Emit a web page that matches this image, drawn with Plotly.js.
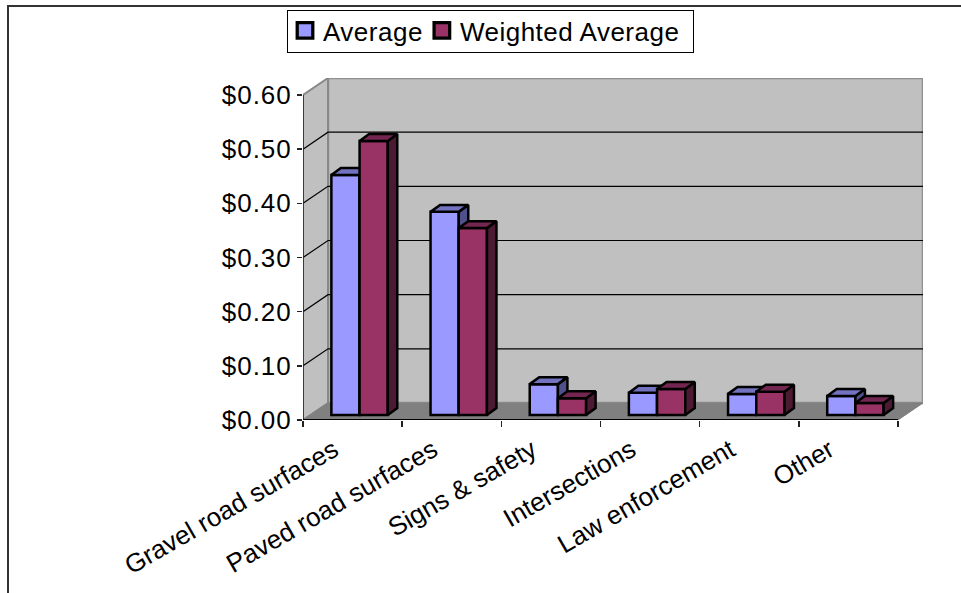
<!DOCTYPE html>
<html><head><meta charset="utf-8">
<script src="https://cdn.plot.ly/plotly-3.0.1.min.js"></script>
<style>
html,body{margin:0;padding:0;background:#fff;overflow:hidden}
#frame{position:absolute;left:7px;top:5px;right:0;bottom:0;border-top:2px solid #333;border-left:2px solid #333}
#chart{position:absolute;left:0;top:0;width:961px;height:593px}
text{letter-spacing:.5px}
.ytick text{letter-spacing:1px}
.xtick text{letter-spacing:0}
.legendpoints path{transform:translate(22px,0) scale(1.3)}
</style></head><body>
<div id="frame"></div><div id="chart"></div>
<script>
const categories=['Gravel road surfaces','Paved road surfaces','Signs & safety','Intersections','Law enforcement','Other'];
const average=[0.443,0.375,0.057,0.041,0.039,0.035];
const weighted=[0.506,0.345,0.031,0.048,0.043,0.022];
const yTicks=[0,0.1,0.2,0.3,0.4,0.5,0.6];

// scale constants (px per data unit and projected depth)
const pxX=99.17,pxY=541.67;
const wallDX=25/pxX,wallDY=17/pxY;      // depth of the chart box
const barDX=7/pxX,barDY=5/pxY;            // where bar fronts stand in the box
const sideDX=9.5/pxX,sideDY=7/pxY;        // depth of one bar
const barW=28.2/pxX;
const nCat=categories.length,yMax=0.6;

function faces(vals,offset){
  const top={x:[],y:[]},side={x:[],y:[]};
  vals.forEach((v,i)=>{
    const l=i+0.5+barDX+offset-barW/2,r=l+barW,b=barDY,t=barDY+v;
    top.x.push(l,r,r+sideDX,l+sideDX,l,null);
    top.y.push(t,t,t+sideDY,t+sideDY,t,null);
    side.x.push(r,r+sideDX,r+sideDX,r,r,null);
    side.y.push(b,b+sideDY,t+sideDY,t,b,null);
  });
  return {top,side};
}
const line2={color:'#000',width:2.5};
function poly(f,color,xa,ya){return {type:'scatter',mode:'lines',x:f.x,y:f.y,fill:'toself',fillcolor:color,line:line2,showlegend:false,hoverinfo:'skip',xaxis:xa,yaxis:ya};}
function bars(name,vals,color,offset,xa,ya){return {type:'bar',name:name,x:vals.map((v,i)=>i+0.5+barDX+offset),y:vals,base:vals.map(()=>barDY),width:barW,marker:{color:color,line:line2},xaxis:xa,yaxis:ya};}

const fA=faces(average,-barW/2),fW=faces(weighted,barW/2);
const traces=[
  bars('Average',average,'#9999FF',-barW/2,'x','y'),
  poly(fA.side,'#50508A','x','y'),
  poly(fA.top,'#7272BF','x','y'),
  bars('Weighted Average',weighted,'#993366',barW/2,'x2','y2'),
  poly(fW.side,'#4D1A33','x2','y2'),
  poly(fW.top,'#732650','x2','y2')
];

const shapes=[];
const xr=[0,nCat+wallDX],yr=[0,yMax+wallDY];
function path(pts){return 'M'+pts.map(p=>p[0]+','+p[1]).join('L')+'Z';}
// back wall, side wall, floor
shapes.push({type:'path',layer:'below',path:path([[wallDX,wallDY],[nCat+wallDX,wallDY],[nCat+wallDX,yMax+wallDY],[wallDX,yMax+wallDY]]),fillcolor:'#C0C0C0',line:{color:'#909090',width:2.5}});
shapes.push({type:'path',layer:'below',path:path([[0,0],[wallDX,wallDY],[wallDX,yMax+wallDY],[0,yMax]]),fillcolor:'#C0C0C0',line:{color:'#888',width:2}});
shapes.push({type:'path',layer:'below',path:path([[0,0],[nCat,0],[nCat+wallDX,wallDY],[wallDX,wallDY]]),fillcolor:'#808080',line:{color:'#808080',width:1}});
// gridlines bent round the box
yTicks.slice(1,-1).forEach(v=>{
  shapes.push({type:'path',layer:'below',path:`M0,${v}L${wallDX},${v+wallDY}L${nCat+wallDX},${v+wallDY}`,line:{color:'#000',width:1.2}});
});
// axis lines
shapes.push({type:'line',x0:0,x1:0,y0:0,y1:yMax,line:{color:'#222',width:1.5}});
shapes.push({type:'line',x0:0,x1:nCat,y0:0,y1:0,line:{color:'#000',width:2}});
shapes.forEach(s=>{s.xref='x';s.yref='y';});

const W=961,H=593,L=303,R=38,T=78,B=173;
const plotW=W-L-R,plotH=H-T-B;
const tickFont={family:'"Liberation Sans",Arial,sans-serif',size:26,color:'#000'};
const layout={
  width:W,height:H,margin:{l:L,r:R,t:T,b:B,pad:0,autoexpand:false},
  paper_bgcolor:'rgba(0,0,0,0)',plot_bgcolor:'rgba(0,0,0,0)',
  barmode:'overlay',showlegend:true,
  font:tickFont,
  legend:{orientation:'h',x:(282-L)/plotW,xanchor:'left',y:(H-B-6)/plotH,yanchor:'top',bgcolor:'#fff',bordercolor:'#000',borderwidth:1,font:tickFont,itemclick:false,traceorder:'normal'},
  xaxis:{range:xr,showgrid:false,zeroline:false,showline:false,tickmode:'array',
    tickvals:categories.map((c,i)=>i+0.31),ticktext:categories,tickangle:-30,ticks:'',ticklen:0,ticklabelstandoff:9,tickfont:tickFont,
    minor:{tickmode:'array',tickvals:Array.from({length:nCat+1},(_,i)=>i),ticks:'outside',ticklen:6,tickwidth:1.5,tickcolor:'#222',showgrid:false}},
  yaxis:{range:yr,showgrid:false,zeroline:false,showline:false,tickmode:'array',tickvals:yTicks,ticktext:yTicks.map(v=>'$'+v.toFixed(2)),ticks:'outside',ticklen:5,tickwidth:1.5,tickcolor:'#222',ticklabelstandoff:0,tickfont:tickFont},
  xaxis2:{range:xr,overlaying:'x',visible:false,matches:'x'},
  yaxis2:{range:yr,overlaying:'y',visible:false,matches:'y'},
  shapes:shapes
};
Plotly.newPlot('chart',traces,layout,{displayModeBar:false,staticPlot:true}).then(()=>{
  // tighten the legend frame around its entries
  const bg=document.querySelector('.legend .bg');
  const x=+bg.getAttribute('x'),y=+bg.getAttribute('y'),w=+bg.getAttribute('width');
  bg.setAttribute('x',x+5);bg.setAttribute('width',w-5);
  bg.setAttribute('y',y+4);bg.setAttribute('height',42);
  const items=document.querySelectorAll('.legend .traces');
  const second=items[items.length-1];
  const m=/translate\(([-\d.]+)[ ,]+([-\d.]+)\)/.exec(second.getAttribute('transform'));
  if(m)second.setAttribute('transform',`translate(${+m[1]-8},${m[2]})`);
});
</script></body></html>
